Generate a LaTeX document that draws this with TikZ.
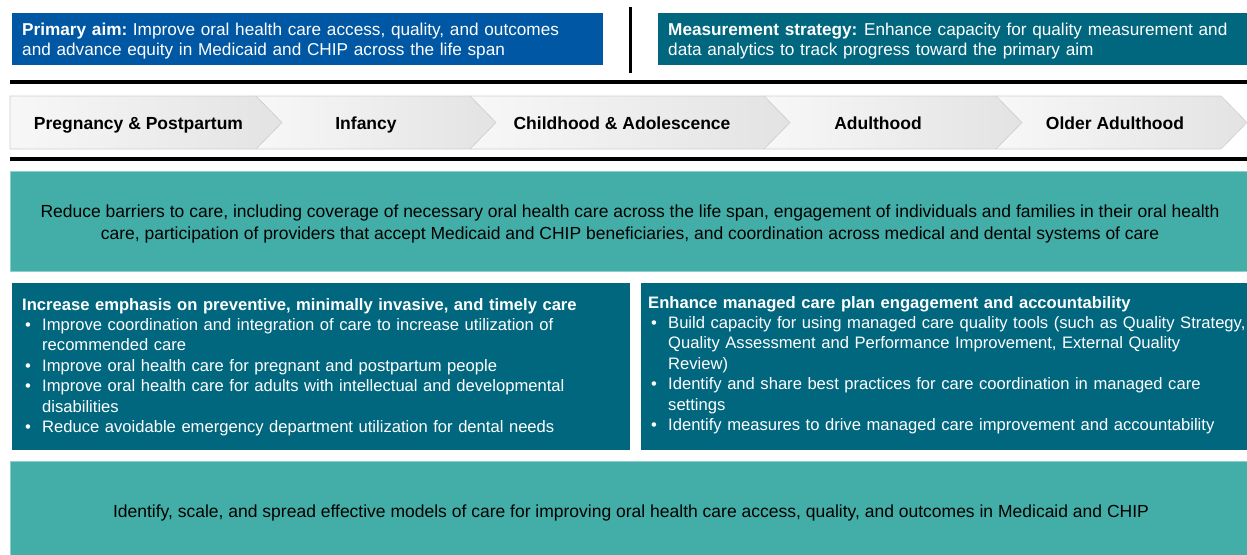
\documentclass[tikz,border=0pt]{standalone}
\usepackage{fontspec}
\setmainfont{Liberation Sans}
\definecolor{aimblue}{HTML}{0057A3}
\definecolor{tealdark}{HTML}{00677F}
\definecolor{teallight}{HTML}{43AEA7}
\definecolor{teallightedge}{HTML}{8CCFCA}
\definecolor{chevedge}{HTML}{CFCFCF}
\newcommand{\bitem}[1]{\par\noindent\hangindent=20pt\hangafter=1\makebox[20pt][l]{\hspace{3pt}\textbullet}#1}
\begin{document}
\begin{tikzpicture}[x=1pt,y=-1pt,
  panel/.style={anchor=north west, inner sep=0pt, outer sep=0pt},
  whitetxt/.style={text=white, inner sep=0pt, align=left, font=\fontsize{17.2}{20}\selectfont},
  blacktxt/.style={text=black, inner sep=0pt, align=center, font=\fontsize{17.5}{22}\selectfont},
  listtxt/.style={text=white, inner sep=0pt, font=\fontsize{16.6}{20.4}\selectfont},
  rule/.style={line width=3.5pt, black},
  chevron/.style={shading=axis, left color=gray!6, right color=gray!22, draw=chevedge, line width=0.6pt},
  stage/.style={inner sep=0pt, anchor=base, font=\bfseries\fontsize{17.5}{20}\selectfont}]
\useasboundingbox (0,0) rectangle (1247,554);

% headline boxes
\node[panel, fill=aimblue, minimum width=591pt, minimum height=52pt] (aim) at (12,13) {};
\node[whitetxt, anchor=west, text width=585pt] (aimtxt) at (22,41)
  {\textbf{Primary aim:}\kern-3pt{} Improve oral health care access, quality, and outcomes\\and advance equity in Medicaid and CHIP across the life span};
\node[panel, fill=tealdark, minimum width=589pt, minimum height=52pt] (meas) at (658,13) {};
\node[whitetxt, anchor=west, text width=578pt] (meastxt) at (668,41)
  {\textbf{Measurement strategy:}\kern-2pt{} Enhance capacity for quality measurement and\\data analytics to track progress toward the primary aim};

% separators
\coordinate (vt) at (630,7);
\coordinate (vb) at (630,73);
\draw[line width=3pt] (vt) -- (vb);
\coordinate (r1l) at (10,82);
\coordinate (r1r) at (1247,82);
\draw[rule] (r1l) -- (r1r);
\coordinate (r2l) at (10,159);
\coordinate (r2r) at (1247,159);
\draw[rule] (r2l) -- (r2r);

% life-span chevrons
\path[chevron] (10,96) -- (256,96) -- (282,122.5) -- (256,149) -- (10,149) -- cycle;
\path[chevron] (256,96) -- (470,96) -- (496,122.5) -- (470,149) -- (256,149) -- (282,122.5) -- cycle;
\path[chevron] (470,96) -- (764,96) -- (790,122.5) -- (764,149) -- (470,149) -- (496,122.5) -- cycle;
\path[chevron] (764,96) -- (996,96) -- (1022,122.5) -- (996,149) -- (764,149) -- (790,122.5) -- cycle;
\path[chevron] (996,96) -- (1221,96) -- (1247,122.5) -- (1221,149) -- (996,149) -- (1022,122.5) -- cycle;
\node[stage] (s1) at (138.5,129.5) {Pregnancy \& Postpartum};
\node[stage] (s2) at (366,129.5) {Infancy};
\node[stage] (s3) at (622,129.5) {Childhood \& Adolescence};
\node[stage] (s4) at (878,129.5) {Adulthood};
\node[stage] (s5) at (1115,129.5) {Older Adulthood};

% barriers box
\node[panel, fill=teallight, draw=teallightedge, line width=0.6pt, minimum width=1237pt, minimum height=100pt] (barriers) at (10,171) {};
\node[blacktxt] (barrierstxt) at (630,224)
  {Reduce barriers to care, including coverage of necessary oral health care across the life span, engagement of individuals and families in their oral health\\care, participation of providers that accept Medicaid and CHIP beneficiaries, and coordination across medical and dental systems of care};

% two driver boxes
\node[panel, fill=tealdark, minimum width=618pt, minimum height=167pt] (prev) at (12,283) {};
\node[listtxt, anchor=base west, text width=600pt] (prevtxt) at (22,310) {%
  \noindent\textbf{Increase emphasis on preventive, minimally invasive, and timely care}
  \bitem{Improve coordination and integration of care to increase utilization of\newline recommended care}
  \bitem{Improve oral health care for pregnant and postpartum people}
  \bitem{Improve oral health care for adults with intellectual and developmental\newline disabilities}
  \bitem{Reduce avoidable emergency department utilization for dental needs}};

\node[panel, fill=tealdark, minimum width=606pt, minimum height=167pt] (mc) at (641,283) {};
\node[listtxt, anchor=base west, text width=600pt] (mctxt) at (648,308) {%
  \noindent\textbf{Enhance managed care plan engagement and accountability}
  \bitem{Build capacity for using managed care quality tools (such as Quality Strategy,\newline Quality Assessment and Performance Improvement, External Quality\newline Review)}
  \bitem{Identify and share best practices for care coordination in managed care\newline settings}
  \bitem{Identify measures to drive managed care improvement and accountability}};

% models box
\node[panel, fill=teallight, draw=teallightedge, line width=0.6pt, minimum width=1237pt, minimum height=95pt] (models) at (10,461) {};
\node[blacktxt] (modelstxt) at (631,513)
  {Identify, scale, and spread effective models of care for improving oral health care access, quality, and outcomes in Medicaid and CHIP};
\end{tikzpicture}
\end{document}
